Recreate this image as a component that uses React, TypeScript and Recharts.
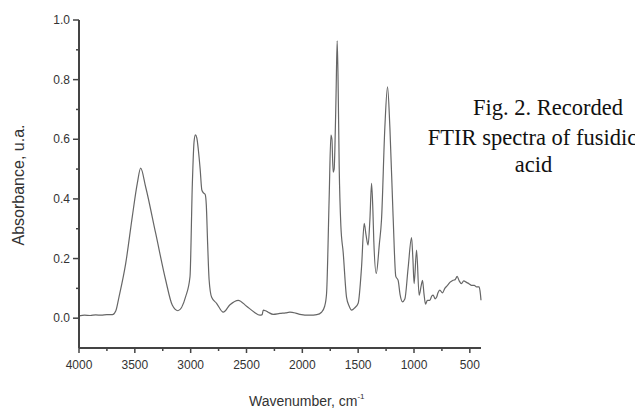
import { LineChart, Line, XAxis, YAxis } from 'recharts'

// FTIR spectrum, highest wavenumber first
const wavenumbers = [
  4000, 3950, 3900, 3850, 3800, 3750, 3700, 3670, 3642, 3582, 3523, 3478, 3448, 3403, 3313, 3224, 3165, 3114,
  3045, 3006, 2985, 2970, 2958, 2945, 2930, 2915, 2900, 2885, 2870, 2860, 2848, 2835, 2812, 2768, 2708, 2648,
  2574, 2499, 2430, 2380, 2360, 2350, 2330, 2306, 2261, 2201, 2150, 2111, 2060, 2022, 1932, 1870, 1828, 1800,
  1783, 1760, 1744, 1735, 1724, 1715, 1709, 1698, 1688, 1680, 1670, 1655, 1634, 1604, 1580, 1559, 1530, 1500,
  1470, 1446, 1430, 1411, 1395, 1380, 1368, 1360, 1338, 1310, 1291, 1261, 1237, 1216, 1187, 1163, 1142, 1125,
  1103, 1082, 1053, 1022, 1010, 999, 977, 954, 935, 924, 910, 897, 880, 858, 840, 829, 810, 798, 785, 769, 745,
  724, 700, 679, 650, 630, 614, 595, 575, 555, 530, 505, 485, 460, 440, 417, 405, 400,
]
const absorbance = [
  0.008, 0.01, 0.009, 0.011, 0.01, 0.012, 0.012, 0.025, 0.071, 0.183, 0.34, 0.452, 0.503, 0.44, 0.284, 0.128,
  0.044, 0.025, 0.072, 0.139, 0.45, 0.59, 0.615, 0.605, 0.56, 0.5, 0.43, 0.42, 0.415, 0.38, 0.25, 0.13, 0.07,
  0.05, 0.02, 0.045, 0.06, 0.04, 0.02, 0.01, 0.012, 0.027, 0.025, 0.02, 0.013, 0.016, 0.018, 0.02, 0.017, 0.013,
  0.01, 0.012, 0.02, 0.04, 0.083, 0.4, 0.614, 0.6, 0.49, 0.5, 0.56, 0.75, 0.93, 0.8, 0.51, 0.31, 0.22, 0.07,
  0.04, 0.027, 0.035, 0.05, 0.17, 0.318, 0.28, 0.245, 0.33, 0.452, 0.36, 0.26, 0.15, 0.25, 0.33, 0.64, 0.776,
  0.64, 0.34, 0.14, 0.127, 0.08, 0.055, 0.064, 0.167, 0.27, 0.2, 0.116, 0.228, 0.077, 0.11, 0.127, 0.08, 0.047,
  0.06, 0.06, 0.075, 0.077, 0.065, 0.07, 0.085, 0.094, 0.085, 0.1, 0.11, 0.12, 0.127, 0.13, 0.14, 0.125, 0.116,
  0.125, 0.12, 0.115, 0.11, 0.11, 0.105, 0.105, 0.08, 0.06,
]

const xTicks = [4000, 3750, 3500, 3250, 3000, 2750, 2500, 2250, 2000, 1750, 1500, 1250, 1000, 750, 500]
const yTicks = [0, 0.1, 0.2, 0.3, 0.4, 0.5, 0.6, 0.7, 0.8, 0.9, 1.0]
const captionLines = ['Fig. 2. Recorded', 'FTIR spectra of fusidic', 'acid']

const data = wavenumbers.map((w, i) => ({ w, a: absorbance[i] }))

const axisColor = '#444'
const labelFont = '"Liberation Sans", Arial, sans-serif'

const XTick = (props: any) => {
  const { x, y, payload } = props
  const major = payload.value % 500 === 0
  return (
    <g>
      <line x1={x} y1={y} x2={x} y2={y + (major ? 5 : 3)} stroke={axisColor} strokeWidth={1.5} />
      {major && (
        <text x={x} y={y + 21} textAnchor="middle" fontSize={12} fontFamily={labelFont} fill="#333">
          {payload.value}
        </text>
      )}
    </g>
  )
}

const YTick = (props: any) => {
  const { x, y, payload } = props
  const major = Math.round(payload.value * 10) % 2 === 0
  return (
    <g>
      <line x1={x - (major ? 6 : 3)} y1={y} x2={x} y2={y} stroke={axisColor} strokeWidth={1.5} />
      {major && (
        <text x={x - 9} y={y + 4} textAnchor="end" fontSize={12} fontFamily={labelFont} fill="#333">
          {payload.value.toFixed(1)}
        </text>
      )}
    </g>
  )
}

const XTitle = (props: any) => {
  const { x, y } = props.viewBox
  return (
    <text x={x + 170} y={y + 58} fontSize={14} fontFamily={labelFont} fill="#333">
      Wavenumber, cm
      <tspan fontSize={8} dy={-7}>-1</tspan>
    </text>
  )
}

const YTitle = (props: any) => {
  const { y, height } = props.viewBox
  const cy = y + height / 2 + 1
  return (
    <text x={10} y={cy} transform={`rotate(-90 10 ${cy})`} textAnchor="middle" dominantBaseline="central"
      fontSize={16} fontFamily={labelFont} fill="#333">
      Absorbance, u.a.
    </text>
  )
}

export default function App() {
  return (
    <div style={{ position: 'relative', width: 635, height: 402 }}>
      <LineChart width={635} height={402} data={data} margin={{ top: 12, right: 162, bottom: 0, left: 0 }}>
        <XAxis
          dataKey="w"
          type="number"
          domain={[400, 4000]}
          reversed
          ticks={xTicks}
          interval={0}
          tickSize={0}
          tickMargin={0}
          tick={<XTick />}
          height={62}
          axisLine={{ stroke: axisColor, strokeWidth: 2 }}
          label={<XTitle />}
        />
        <YAxis
          type="number"
          domain={[-0.1, 1.0]}
          ticks={yTicks}
          interval={0}
          tickSize={0}
          tickMargin={0}
          tick={<YTick />}
          width={71}
          axisLine={{ stroke: axisColor, strokeWidth: 2 }}
          label={<YTitle />}
        />
        <Line
          type="monotone"
          dataKey="a"
          stroke="#666"
          strokeWidth={1.2}
          dot={false}
          isAnimationActive={false}
        />
      </LineChart>
      <svg width={635} height={402} style={{ position: 'absolute', left: 0, top: 0, pointerEvents: 'none' }}>
        <g fontFamily='"Liberation Serif", "Times New Roman", serif' fontSize={22.5} fill="#111" textAnchor="middle">
          <text x={540} y={107}>{captionLines[0]}</text>
          <text x={524.5} y={137}>{captionLines[1]}</text>
          <text x={525.5} y={164}>{captionLines[2]}</text>
        </g>
      </svg>
    </div>
  )
}
